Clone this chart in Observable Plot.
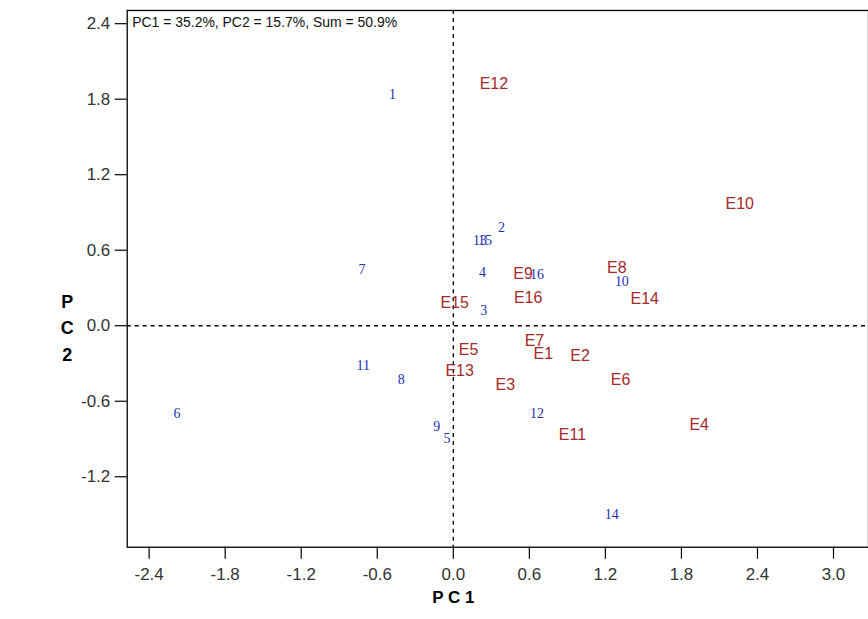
<!DOCTYPE html>
<html>
<head>
<meta charset="utf-8">
<script src="https://cdn.jsdelivr.net/npm/d3@7"></script>
<script src="https://cdn.jsdelivr.net/npm/@observablehq/plot@0.6"></script>
<style>
  html, body { margin: 0; padding: 0; background: #fff; overflow: hidden; }
  #chart svg { display: block; }
</style>
</head>
<body>
<div id="chart"></div>
<script>
// Genotypes (blue numbers)
const genoLabels = ["1","2","3","4","5","6","7","8","9","10","11","12","13","14","15","16"];
const genoPC1    = [-0.48, 0.38, 0.24, 0.23, -0.05, -2.18, -0.72, -0.41, -0.13, 1.33, -0.71, 0.66, 0.21, 1.25, 0.25, 0.66];
const genoPC2    = [1.84, 0.78, 0.12, 0.42, -0.90, -0.70, 0.45, -0.43, -0.80, 0.35, -0.32, -0.70, 0.68, -1.50, 0.68, 0.41];

// Environments (red labels)
const envLabels = ["E1","E2","E3","E4","E5","E6","E7","E8","E9","E10","E11","E12","E13","E14","E15","E16"];
const envPC1    = [0.71, 1.00, 0.41, 1.94, 0.12, 1.32, 0.64, 1.29, 0.55, 2.26, 0.94, 0.32, 0.05, 1.51, 0.01, 0.59];
const envPC2    = [-0.22, -0.24, -0.47, -0.79, -0.19, -0.43, -0.12, 0.46, 0.41, 0.97, -0.87, 1.92, -0.36, 0.21, 0.18, 0.22];

const xTicks = [-2.4, -1.8, -1.2, -0.6, 0.0, 0.6, 1.2, 1.8, 2.4, 3.0];
const yTicks = [-1.2, -0.6, 0.0, 0.6, 1.2, 1.8, 2.4];
const annotation = "PC1 = 35.2%, PC2 = 15.7%, Sum = 50.9%";
const xLabel = "P C 1";
const yLabel = "P\nC\n2";

const geno = genoLabels.map((l, i) => ({label: l, x: genoPC1[i], y: genoPC2[i]}));
const env = envLabels.map((l, i) => ({label: l, x: envPC1[i], y: envPC2[i]}));

const fmt = d => d.toFixed(1);

const chart = Plot.plot({
  width: 870,
  height: 619,
  marginLeft: 127,
  marginRight: 0,
  marginTop: 10,
  marginBottom: 71,
  style: {background: "#fff", fontFamily: "Liberation Sans, Arial, sans-serif"},
  x: {domain: [-2.573, 3.276]},
  y: {domain: [-1.76, 2.505]},
  marks: [
    Plot.ruleX([0], {stroke: "#000", strokeDasharray: "4,4", strokeWidth: 1.3}),
    Plot.ruleY([0], {stroke: "#000", strokeDasharray: "4,4", strokeWidth: 1.3}),
    Plot.frame({stroke: "#000", strokeWidth: 1.3}),
    Plot.axisX({ticks: xTicks, tickFormat: fmt, tickSize: 12, tickPadding: 9, fontSize: 17, color: "#333", label: null, stroke: "#000", strokeWidth: 1.2}),
    Plot.axisY({ticks: yTicks, tickFormat: fmt, tickSize: 12, tickPadding: 5, fontSize: 17, color: "#333", label: null, stroke: "#000", strokeWidth: 1.2}),
    Plot.text([annotation], {frameAnchor: "top-left", dx: 5, dy: 7, fontSize: 14, fill: "#111", textAnchor: "start", lineAnchor: "top"}),
    Plot.text(geno, {x: "x", y: "y", text: "label", fill: "#2630b0", fontSize: 14, fontFamily: "Liberation Serif, Times New Roman, serif"}),
    Plot.text(env, {x: "x", y: "y", text: "label", fill: "#a52a2a", fontSize: 16, fontFamily: "Liberation Sans, Arial, sans-serif"}),
    Plot.text([0], {x: d => d, frameAnchor: "bottom", dy: 50, lineAnchor: "middle", textAnchor: "middle", text: () => xLabel, fontSize: 17, fontWeight: "bold", fill: "#000"}),
    Plot.text([0], {y: d => d, frameAnchor: "left", dx: -60, lineAnchor: "middle", textAnchor: "middle", text: () => yLabel, fontSize: 18, fontWeight: "bold", fill: "#000", lineHeight: 1.47})
  ]
});
document.getElementById("chart").appendChild(chart);
</script>
</body>
</html>
